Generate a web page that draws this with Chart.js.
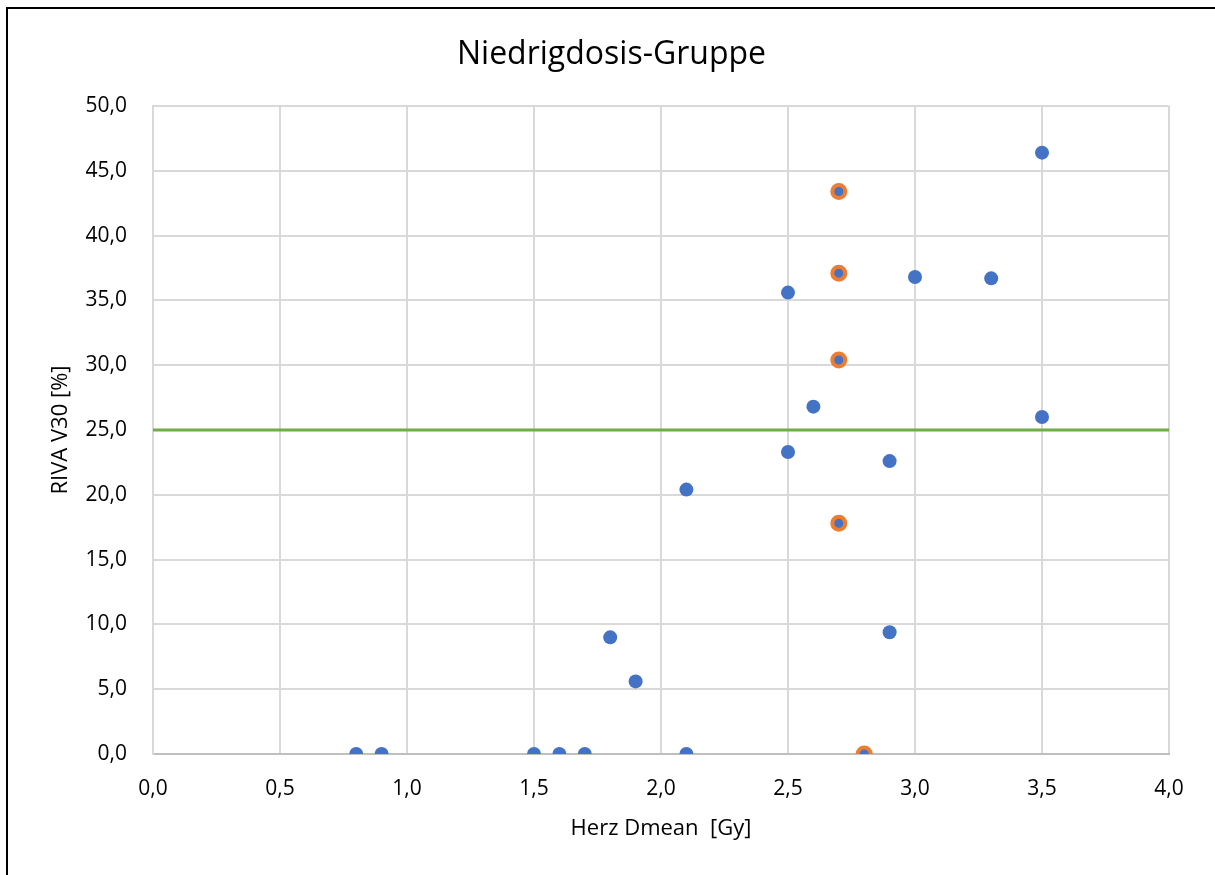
<!DOCTYPE html>
<html>
<head>
<meta charset="utf-8">
<script src="https://cdn.jsdelivr.net/npm/chart.js@4.4.1/dist/chart.umd.min.js"></script>
<style>
  html, body { margin: 0; padding: 0; background: #fff; overflow: hidden; }
  #wrap { position: relative; width: 1215px; height: 875px; }
  #rahmen { position: absolute; left: 6px; top: 7px; width: 1300px; height: 1000px;
            border: 2px solid #000; pointer-events: none; }
</style>
</head>
<body>
<div id="wrap">
  <canvas id="diagramm" width="1215" height="875"></canvas>
  <div id="rahmen"></div>
</div>
<script>
// Werte
const herzDmean = [0.8, 0.9, 1.5, 1.6, 1.7, 2.1, 1.8, 1.9, 2.1, 2.5, 2.5, 2.6, 2.9, 2.9, 3.0, 3.3, 3.5, 3.5];
const rivaV30 = [0, 0, 0, 0, 0, 0, 9.0, 5.6, 20.4, 23.3, 35.6, 26.8, 22.6, 9.4, 36.8, 36.7, 46.4, 26.0];

// Zweite Gruppe (orange Punkte)
const herzDmeanOrange = [2.7, 2.7, 2.7, 2.7, 2.8];
const rivaV30Orange = [43.4, 37.1, 30.4, 17.8, 0];

// Grenzwert (grüne Linie)
const grenzwert = 25;

const xTicks = [0, 0.5, 1.0, 1.5, 2.0, 2.5, 3.0, 3.5, 4.0];
const yTicks = [0, 5, 10, 15, 20, 25, 30, 35, 40, 45, 50];

const titel = 'Niedrigdosis-Gruppe';
const schrift = "'Open Sans', Lato, sans-serif";

function punkte(xs, ys) {
    return xs.map((x, i) => ({ x: x, y: ys[i] }));
}

// Titel mittig über die ganze Fläche zeichnen (wie in Excel)
const titelPlugin = {
    id: 'titelPlugin',
    afterDraw(chart) {
        const ctx = chart.ctx;
        ctx.save();
        ctx.font = '32px ' + schrift;
        ctx.fillStyle = '#000';
        ctx.textAlign = 'center';
        ctx.textBaseline = 'middle';
        ctx.fillText(titel, chart.width / 2 + 4, 55);
        ctx.restore();
    }
};

const lienzo = document.getElementById('diagramm').getContext('2d');

new Chart(lienzo, {
    type: 'scatter',
    data: {
        datasets: [
            {
                type: 'line',
                label: 'Grenzwert',
                data: [{ x: xTicks[0], y: grenzwert }, { x: xTicks[xTicks.length - 1], y: grenzwert }],
                borderColor: '#70AD47',
                borderWidth: 3,
                pointRadius: 0,
                fill: false
            },
            {
                label: 'Gruppe 2',
                data: punkte(herzDmeanOrange, rivaV30Orange),
                backgroundColor: '#4472C4',
                borderColor: '#ED7D31',
                borderWidth: 4,
                pointRadius: 6.5
            },
            {
                label: 'Gruppe 1',
                data: punkte(herzDmean, rivaV30),
                backgroundColor: '#4472C4',
                borderColor: '#4472C4',
                borderWidth: 0,
                pointRadius: 7
            }
        ]
    },
    plugins: [titelPlugin],
    options: {
        responsive: false,
        animation: false,
        layout: { padding: { left: 0, right: 46, top: 106, bottom: 0 } },
        plugins: {
            legend: { display: false },
            tooltip: { enabled: false },
            title: { display: false }
        },
        scales: {
            x: {
                type: 'linear',
                min: xTicks[0],
                max: xTicks[xTicks.length - 1],
                afterFit: function (scale) { scale.height = 121; },
                afterBuildTicks: function (scale) { scale.ticks = xTicks.map(v => ({ value: v })); },
                ticks: {
                    color: '#000',
                    padding: 22,
                    font: { family: schrift, size: 21 },
                    callback: v => v.toFixed(1).replace('.', ',')
                },
                grid: { color: '#d9d9d9', lineWidth: 2, drawTicks: false },
                border: { color: '#bfbfbf', width: 2 },
                title: {
                    display: true,
                    text: 'Herz Dmean  [Gy]',
                    color: '#000',
                    font: { family: schrift, size: 22 },
                    padding: { top: 33, bottom: 33 }
                }
            },
            y: {
                type: 'linear',
                min: yTicks[0],
                max: yTicks[yTicks.length - 1],
                afterFit: function (scale) { scale.width = 153; },
                afterBuildTicks: function (scale) { scale.ticks = yTicks.map(v => ({ value: v })); },
                ticks: {
                    color: '#000',
                    padding: 26,
                    font: { family: schrift, size: 21 },
                    callback: v => v.toFixed(1).replace('.', ',')
                },
                grid: { color: '#d9d9d9', lineWidth: 2, drawTicks: false },
                border: { color: '#d9d9d9', width: 2 },
                title: {
                    display: true,
                    text: 'RIVA V30 [%]',
                    color: '#000',
                    font: { family: schrift, size: 22 },
                    padding: { top: 48, bottom: 48 }
                }
            }
        }
    }
});
</script>
</body>
</html>
